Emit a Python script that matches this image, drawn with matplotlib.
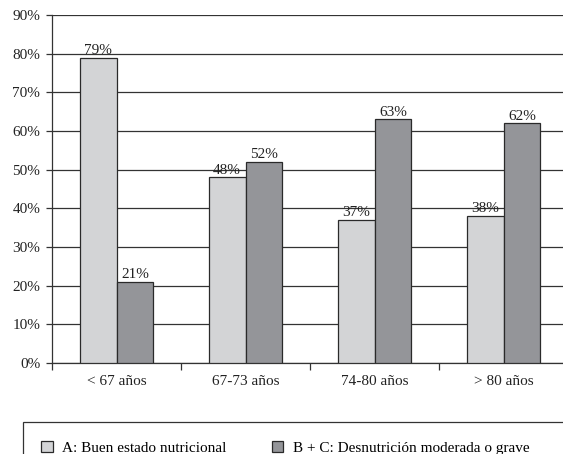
import matplotlib
matplotlib.use("Agg")
import matplotlib.pyplot as plt
from matplotlib.patches import Rectangle
import numpy as np

categories = ["< 67 años", "67-73 años", "74-80 años", "> 80 años"]
buen = [79, 48, 37, 38]
desnut = [21, 52, 63, 62]
series_names = ["A: Buen estado nutricional", "B + C: Desnutrición moderada o grave"]
yticks = [0, 10, 20, 30, 40, 50, 60, 70, 80, 90]

plt.rcParams['font.family'] = ['Liberation Serif', 'DejaVu Serif']
fs = 11
W, H = 563, 454
fig = plt.figure(figsize=(W/100, H/100), dpi=100)
left, right, top, bottom = 52, 568, 15, 363
ax = fig.add_axes([left/W, 1-bottom/H, (right-left)/W, (bottom-top)/H])

light = "#d3d4d6"
dark = "#949599"
edge = "#2a2a2a"
x = np.arange(len(categories))
w = 0.285
b1 = ax.bar(x - w/2, buen, w, color=light, edgecolor=edge, linewidth=0.9, zorder=3, label=series_names[0])
b2 = ax.bar(x + w/2, desnut, w, color=dark, edgecolor=edge, linewidth=0.9, zorder=3, label=series_names[1])
for bars, vals in ((b1, buen), (b2, desnut)):
    for r, v in zip(bars, vals):
        ax.annotate(f"{v}%", (r.get_x() + r.get_width()/2, v), xytext=(0, 0.5),
                    textcoords="offset points", ha="center", va="bottom",
                    fontsize=fs, color="#222222")

ax.set_xlim(-0.5, len(categories) - 0.5)
ax.set_ylim(0, 90)
ax.set_yticks(yticks)
ax.set_yticklabels([f"{t}%" for t in yticks], fontsize=fs, color="#222222")
ax.yaxis.grid(True, color="#333333", linewidth=0.9, zorder=0)
ax.tick_params(axis="y", direction="out", length=4.5, width=0.9, color="#333333", pad=4)

ax.set_xticks(np.arange(len(categories) + 1) - 0.5)
ax.set_xticklabels([])
ax.tick_params(axis="x", which="major", direction="out", length=5, width=0.9, color="#333333")
ax.set_xticks(x, minor=True)
ax.set_xticklabels(categories, minor=True, fontsize=fs, color="#222222")
ax.tick_params(axis="x", which="minor", length=0, pad=8.5)

for s in ("top", "right"):
    ax.spines[s].set_visible(False)
for s in ("left", "bottom"):
    ax.spines[s].set_color("#333333")
    ax.spines[s].set_linewidth(0.9)

# legend box
fig.patches.append(Rectangle((23/W, -0.05), 1.0, 1 - 422/H + 0.05, transform=fig.transFigure,
                             fill=False, edgecolor="#333333", linewidth=0.9))
fig.legend(handles=[b1, b2], loc="center left", bbox_to_anchor=(35/W, 1 - 448/H),
           ncol=2, frameon=False, fontsize=fs, handlelength=0.75, handleheight=0.75,
           handletextpad=0.6, columnspacing=3.0, borderaxespad=0)

fig.savefig("out.png", dpi=100)
